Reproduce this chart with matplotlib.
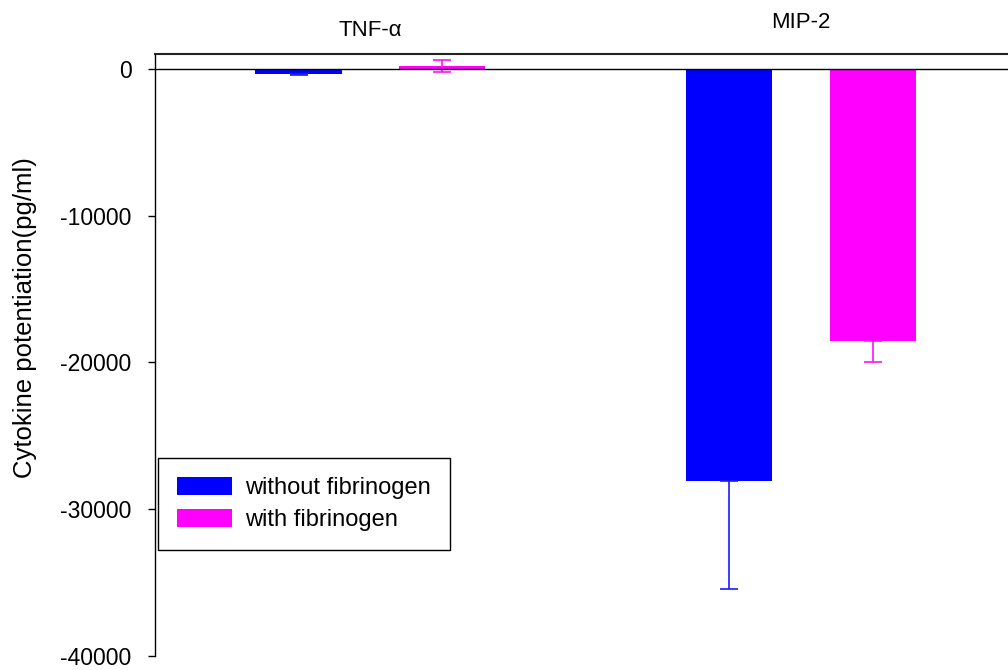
import matplotlib
matplotlib.use("Agg")
import matplotlib.pyplot as plt
import numpy as np

plt.rcParams['font.family'] = ['Liberation Sans', 'DejaVu Sans']

# Data
cytokines = ["TNF-α", "MIP-2"]
series_labels = ["without fibrinogen", "with fibrinogen"]
without_fib = [-380, -28050]
with_fib = [170, -18550]
# (lower, upper) error magnitudes
without_err_low = [60, 7400]
without_err_up = [0, 0]
with_err_low = [400, 1400]
with_err_up = [400, 0]
yticks = [0, -10000, -20000, -30000, -40000]

colors = ["#0000ff", "#ff00ff"]

W, H = 1008, 670
fig = plt.figure(figsize=(W / 100, H / 100), dpi=100)
ax_left, ax_top, ax_bottom, ax_right = 155, 54, 656, 1016.4
ax = fig.add_axes([ax_left / W, 1 - ax_bottom / H,
                   (ax_right - ax_left) / W, (ax_bottom - ax_top) / H])

x = np.arange(len(cytokines))
width = 0.2
offset = 1 / 6

ax.bar(x - offset, without_fib, width, color=colors[0], label=series_labels[0],
       yerr=[without_err_low, without_err_up], ecolor="#1a1aff",
       error_kw=dict(capsize=6.5, elinewidth=1.2, capthick=1.2))
ax.bar(x + offset, with_fib, width, color=colors[1], label=series_labels[1],
       yerr=[with_err_low, with_err_up], ecolor="#ff10ff",
       error_kw=dict(capsize=6.5, elinewidth=1.2, capthick=1.2))

ax.axhline(0, color="black", lw=1.0, zorder=3)

ax.set_xlim(-0.5, 1.5)
ax.set_ylim(-40000, 1000)
ax.set_xticks([])
ax.set_yticks(yticks)
ax.set_yticklabels([str(v) for v in yticks])
ax.tick_params(axis="y", direction="out", length=5, width=1, pad=12, labelsize=16.5)

for side in ["bottom", "right"]:
    ax.spines[side].set_visible(False)
ax.spines["top"].set_linewidth(1.5)
ax.spines["top"].set_color("#222222")
ax.spines["left"].set_linewidth(1.0)
ax.spines["left"].set_bounds(-40000, 1000)

ylab = ax.set_ylabel("Cytokine potentiation(pg/ml)", fontsize=18.5)
ax.yaxis.set_label_coords((25 - ax_left) / (ax_right - ax_left),
                          (ax_bottom - 318) / (ax_bottom - ax_top))
ylab.set_va("center")

# Category labels above the plot
px_per_unit = (ax_right - ax_left) / 2.0
for xi, name, ypx in zip(x, cytokines, [30, 22]):
    fig.text((ax_left + (xi + 0.5) * px_per_unit) / W, 1 - ypx / H, name,
             ha="center", va="center", fontsize=16)

leg = ax.legend(loc="upper left", bbox_to_anchor=(158 / W, 1 - 458 / H),
                bbox_transform=fig.transFigure, fontsize=17, frameon=True,
                fancybox=False, edgecolor="black", framealpha=1,
                handlelength=2.33, handleheight=0.8, labelspacing=0.4,
                borderpad=0.8, handletextpad=0.55, borderaxespad=0)
leg.get_frame().set_linewidth(1.0)

fig.savefig("out.png", dpi=100)
